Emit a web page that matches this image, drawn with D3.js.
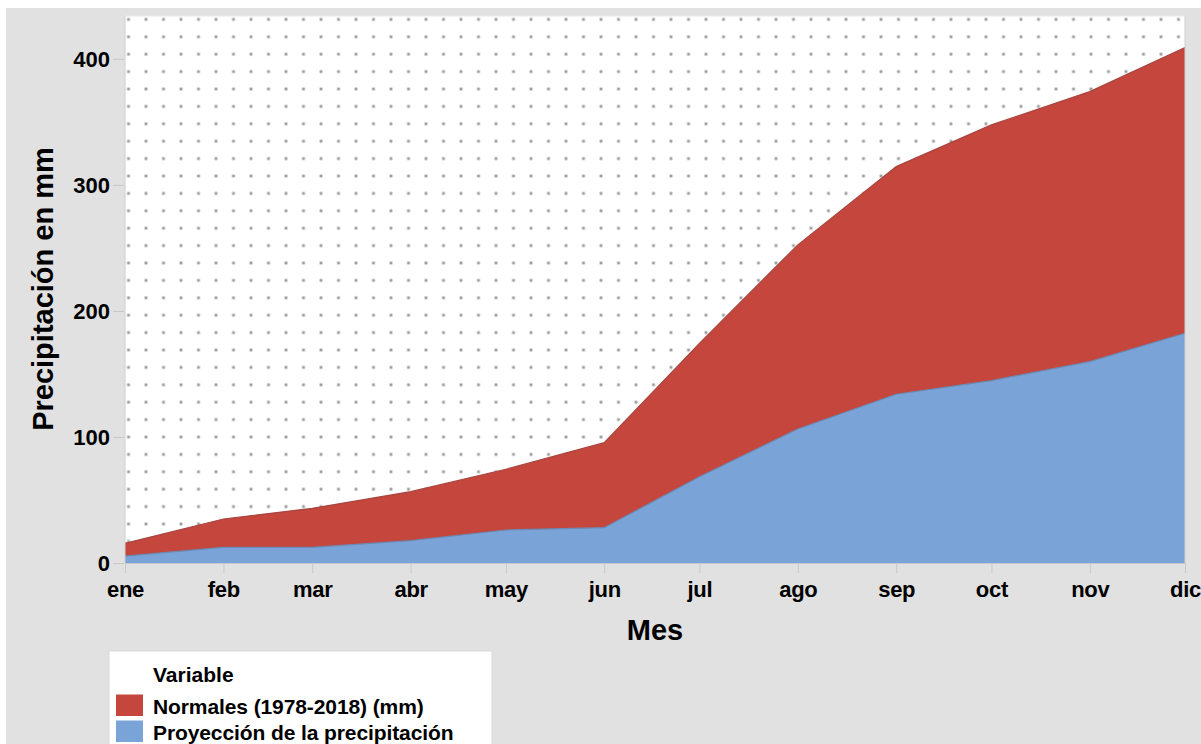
<!DOCTYPE html>
<html>
<head>
<meta charset="utf-8">
<script src="https://cdn.jsdelivr.net/npm/d3@7"></script>
<style>
  html, body { margin: 0; padding: 0; background: #ffffff; }
  svg { display: block; }
  text { font-family: "Liberation Sans", Arial, sans-serif; font-weight: bold; fill: #000; }
</style>
</head>
<body>
<svg id="chart" width="1201" height="744"></svg>
<script>
// ---- data ----
const months = ["ene", "feb", "mar", "abr", "may", "jun", "jul", "ago", "sep", "oct", "nov", "dic"];
const normales = [15.6, 34.9, 43.4, 56.6, 74.4, 95.5, 174.3, 252.4, 314.5, 347.6, 374.0, 409.0];
const proyeccion = [5.5, 12.4, 12.4, 17.7, 26.2, 28.0, 68.5, 106.3, 133.9, 144.7, 159.8, 182.3];
const yTicks = [0, 100, 200, 300, 400];
const seriesNames = ["Normales (1978-2018) (mm)", "Proyección de la precipitación"];
const legendTitle = "Variable";
const xTitle = "Mes";
const yTitle = "Precipitación en mm";

// ---- layout ----
const W = 1201, H = 744;
const plot = { left: 125, right: 1185, top: 16, bottom: 563 };
const colors = { normales: "#c4463d", proyeccion: "#7aa3d7" };

const svg = d3.select("#chart");

// background
svg.append("rect").attr("x", 6).attr("y", 8).attr("width", W - 6).attr("height", H - 8).attr("fill", "#e1e1e1");

const dates = months.map((m, i) => new Date(2019, i, 1));
const x = d3.scaleTime().domain([dates[0], dates[dates.length - 1]]).range([plot.left, plot.right]);
const y = d3.scaleLinear().domain([0, 434]).range([plot.bottom, plot.top]);

// dot pattern
const defs = svg.append("defs");
const pat = defs.append("pattern")
  .attr("id", "dots")
  .attr("patternUnits", "userSpaceOnUse")
  .attr("x", 128.5 - 8.75).attr("y", 19.4 - 8.7)
  .attr("width", 17.5).attr("height", 17.4);
pat.append("rect").attr("width", 17.5).attr("height", 17.4).attr("fill", "#ffffff");
pat.append("rect").attr("x", 8.75 - 1.4).attr("y", 8.7 - 1.4).attr("width", 2.8).attr("height", 2.8).attr("fill", "#9c9c9c");

svg.append("rect")
  .attr("x", plot.left).attr("y", plot.top)
  .attr("width", plot.right - plot.left).attr("height", plot.bottom - plot.top)
  .attr("fill", "url(#dots)");

// areas
const area = vals => d3.area()
  .x((d, i) => x(dates[i]))
  .y0(y(0))
  .y1(d => y(d))(vals);
const line = vals => d3.line()
  .x((d, i) => x(dates[i]))
  .y(d => y(d))(vals);

svg.append("path").attr("d", area(normales)).attr("fill", colors.normales);
svg.append("path").attr("d", line(normales)).attr("fill", "none").attr("stroke", "#a8453f").attr("stroke-width", 1.2);
svg.append("path").attr("d", area(proyeccion)).attr("fill", colors.proyeccion);
svg.append("path").attr("d", line(proyeccion)).attr("fill", "none").attr("stroke", "#6a8bb5").attr("stroke-width", 1.2);

// plot frame (left/right faint edges)
svg.append("line").attr("x1", plot.left).attr("x2", plot.left).attr("y1", plot.top).attr("y2", plot.bottom).attr("stroke", "#cfcfcf").attr("stroke-width", 1);
svg.append("line").attr("x1", plot.right).attr("x2", plot.right).attr("y1", plot.top).attr("y2", plot.bottom).attr("stroke", "#cfcfcf").attr("stroke-width", 1);
svg.append("line").attr("x1", plot.left).attr("x2", plot.right).attr("y1", plot.top).attr("y2", plot.top).attr("stroke", "#e8e8e8").attr("stroke-width", 1);

// x axis
const xAxis = d3.axisBottom(x)
  .tickValues(dates)
  .tickFormat((d, i) => months[i])
  .tickSize(10).tickPadding(6);
const gx = svg.append("g").attr("transform", `translate(0,${plot.bottom})`).call(xAxis);
gx.select(".domain").attr("stroke", "#c8c8c8").attr("d", `M${plot.left},0.5H${plot.right}`);
gx.selectAll(".tick line").attr("stroke", "#c8c8c8");
gx.selectAll(".tick text")
  .attr("font-size", 22).attr("font-family", "Liberation Sans, Arial, sans-serif").attr("font-weight", "bold")
  .attr("letter-spacing", "-0.3").attr("fill", "#000").attr("y", 33.5).attr("dy", 0);

// y axis
const yAxis = d3.axisLeft(y).tickValues(yTicks).tickSize(11).tickPadding(3);
const gy = svg.append("g").attr("transform", `translate(${plot.left - 1},0)`).call(yAxis);
gy.select(".domain").remove();
gy.selectAll(".tick line").attr("stroke", "#c8c8c8");
gy.selectAll(".tick text")
  .attr("font-size", 22).attr("font-family", "Liberation Sans, Arial, sans-serif").attr("font-weight", "bold")
  .attr("fill", "#000").attr("dy", "0.36em");

// titles
svg.append("text")
  .attr("x", 655).attr("y", 640)
  .attr("text-anchor", "middle").attr("font-size", 29)
  .text(xTitle);
svg.append("text")
  .attr("transform", `translate(53,289) rotate(-90)`)
  .attr("text-anchor", "middle").attr("font-size", 29)
  .text(yTitle);

// legend
const lg = svg.append("g");
lg.append("rect").attr("x", 109).attr("y", 651).attr("width", 383).attr("height", 100)
  .attr("fill", "#ffffff").attr("stroke", "#d8d8d8");
lg.append("text").attr("x", 153).attr("y", 681.5).attr("font-size", 21).text(legendTitle);
const legendItems = [
  { name: seriesNames[0], color: colors.normales },
  { name: seriesNames[1], color: colors.proyeccion }
];
legendItems.forEach((d, i) => {
  lg.append("rect").attr("x", 116).attr("y", 694.5 + i * 26).attr("width", 27).attr("height", 21.5).attr("fill", d.color);
  lg.append("text").attr("x", 153).attr("y", 713.5 + i * 26).attr("font-size", 21).attr("letter-spacing", "-0.1").text(d.name);
});
</script>
</body>
</html>
